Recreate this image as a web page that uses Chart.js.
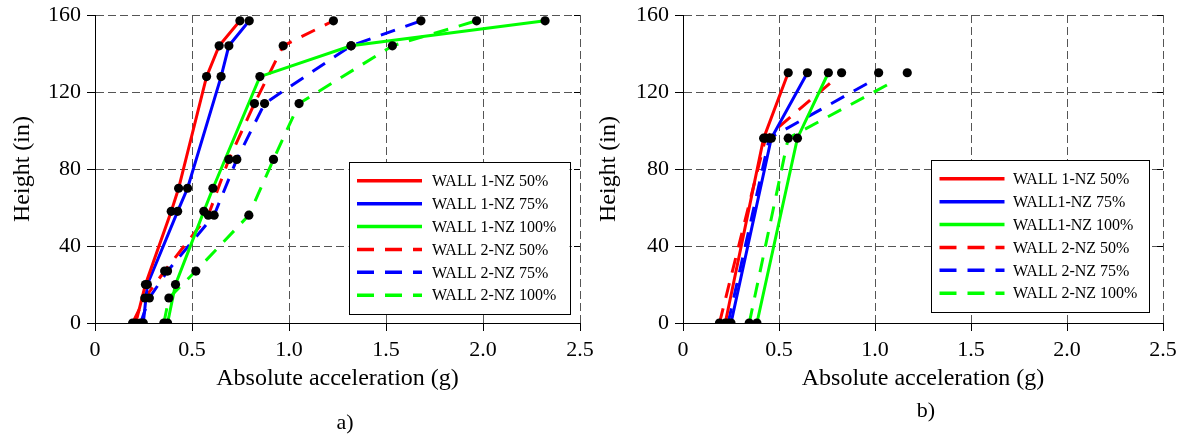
<!DOCTYPE html>
<html>
<head>
<meta charset="utf-8">
<script src="https://cdn.jsdelivr.net/npm/chart.js@4"></script>
<style>
  body { margin: 0; background: #fff; width: 1191px; height: 438px; position: relative; overflow: hidden; font-family: "Liberation Serif", serif; }
  #left { position: absolute; left: 0; top: 0; }
  #right { position: absolute; left: 592px; top: 0; }
  .cap { position: absolute; font-size: 22px; transform: translate(-50%, -50%); color: #000; }
</style>
</head>
<body>
<canvas id="left" width="595" height="438"></canvas>
<canvas id="right" width="599" height="438"></canvas>
<div class="cap" style="left:345px; top:422px">a)</div>
<div class="cap" style="left:926px; top:410px">b)</div>
<script>
// axis ticks
const xTicks = [0, 0.5, 1, 1.5, 2, 2.5];
const yTicks = [0, 40, 80, 120, 160];

// a) heights of the measuring points (in)
const heightsW1a = [0, 20, 58, 70, 128, 144, 157];
const heightsW2a = [0, 13, 27, 56, 85, 114, 144, 157];
// a) accelerations (g)
const w1n50a = [0.21, 0.26, 0.393, 0.431, 0.575, 0.64, 0.747];
const w1n75a = [0.249, 0.27, 0.426, 0.477, 0.65, 0.69, 0.795];
const w1n100a = [0.374, 0.415, 0.561, 0.608, 0.85, 1.32, 2.32];
const w2n50a = [0.194, 0.257, 0.359, 0.584, 0.69, 0.822, 0.97, 1.229];
const w2n75a = [0.235, 0.28, 0.374, 0.614, 0.731, 0.874, 1.32, 1.68];
const w2n100a = [0.355, 0.381, 0.52, 0.793, 0.92, 1.052, 1.533, 1.967];
const labelsA = ["WALL 1-NZ 50%", "WALL 1-NZ 75%", "WALL 1-NZ 100%", "WALL 2-NZ 50%", "WALL 2-NZ 75%", "WALL 2-NZ 100%"];

// b)
const heightsW1b = [0, 96, 130];
const heightsW2b = [0, 96, 125];
const w1n50b = [0.22, 0.42, 0.548];
const w1n75b = [0.25, 0.46, 0.648];
const w1n100b = [0.385, 0.596, 0.757];
const w2n50b = [0.19, 0.43, 0.771];
const w2n75b = [0.235, 0.45, 0.97];
const w2n100b = [0.345, 0.548, 1.088];
// wall 2 top markers sit a bit above the line ends
const w2TopDotHeightB = 130;
const w2TopDotsB = [0.826, 1.019, 1.168];
const labelsB = ["WALL 1-NZ 50%", "WALL1-NZ 75%", "WALL1-NZ 100%", "WALL 2-NZ 50%", "WALL 2-NZ 75%", "WALL 2-NZ 100%"];

const colors = ["#ff0000", "#0000ff", "#00ff00"];
const DASH = [15, 11];

Chart.defaults.font.family = '"Liberation Serif", serif';
Chart.defaults.color = "#000";

function pts(xs, hs) {
    return xs.map((x, i) => ({ x: x, y: hs[i] }));
}

function lineSet(label, xs, hs, color, dashed) {
    return {
        label: label,
        data: pts(xs, hs),
        borderColor: color,
        backgroundColor: color,
        borderWidth: 3,
        borderDash: dashed ? DASH : [],
        pointRadius: 0,
        showLine: true,
        fill: false,
        tension: 0
    };
}

function markerSet(points) {
    return {
        label: "",
        data: points,
        showLine: false,
        pointRadius: 4.6,
        pointBackgroundColor: "#000",
        pointBorderColor: "#000",
        pointBorderWidth: 0,
        order: -1
    };
}

// legend drawn inside the plot, bottom right
const boxLegend = {
    id: "boxLegend",
    afterDraw(chart, args, opts) {
        const { ctx, chartArea } = chart;
        const items = chart.data.datasets.filter(d => d.label);
        const rowH = 22.9, padY = 7.3;
        const h = rowH * items.length + padY * 2;
        const x0 = chartArea.right - opts.right - opts.width;
        const y0 = chartArea.bottom - opts.bottom - h;
        ctx.save();
        ctx.fillStyle = "#fff";
        ctx.fillRect(x0, y0, opts.width, h);
        ctx.strokeStyle = "#000";
        ctx.lineWidth = 1;
        ctx.strokeRect(Math.round(x0) + 0.5, Math.round(y0) + 0.5, Math.round(opts.width), Math.round(h));
        ctx.font = '16px "Liberation Serif"';
        ctx.textBaseline = "middle";
        items.forEach((d, i) => {
            const y = y0 + padY + rowH * (i + 0.5);
            ctx.strokeStyle = d.borderColor;
            ctx.lineWidth = 3.5;
            ctx.setLineDash(d.borderDash.length ? [17, 11] : []);
            ctx.beginPath();
            ctx.moveTo(x0 + 8.5, y);
            ctx.lineTo(x0 + 73.5, y);
            ctx.stroke();
            ctx.setLineDash([]);
            ctx.fillStyle = "#000";
            ctx.fillText(d.label, x0 + opts.textX, y + 1);
        });
        ctx.restore();
    }
};

// small inward ticks on the right edge
const rightTicks = {
    id: "rightTicks",
    afterDraw(chart) {
        const { ctx, chartArea } = chart;
        const y = chart.scales.y;
        ctx.save();
        ctx.strokeStyle = "#000";
        ctx.lineWidth = 1;
        y.ticks.forEach(t => {
            const py = Math.round(y.getPixelForValue(t.value)) + 0.5;
            ctx.beginPath();
            ctx.moveTo(chartArea.right - 6, py);
            ctx.lineTo(chartArea.right, py);
            ctx.stroke();
        });
        ctx.restore();
    }
};

function makeChart(id, datasets, yWidth, padRight, legendOpts) {
    return new Chart(document.getElementById(id), {
        type: "scatter",
        data: { datasets: datasets },
        options: {
            responsive: false,
            animation: false,
            layout: { padding: { left: 0, right: padRight, top: 15, bottom: 45 } },
            plugins: {
                legend: { display: false },
                tooltip: { enabled: false },
                boxLegend: legendOpts
            },
            scales: {
                x: {
                    type: "linear",
                    min: 0,
                    max: 2.5,
                    afterBuildTicks: s => { s.ticks = xTicks.map(v => ({ value: v })); },
                    afterFit: s => { s.height = 70; s.paddingLeft = 0; s.paddingRight = 0; },
                    ticks: { font: { size: 22 }, padding: 6, maxRotation: 0 },
                    grid: { color: "#555", lineWidth: 1, tickColor: "#000", tickLength: 8, tickBorderDash: [] },
                    border: { display: true, color: "#000", width: 1, dash: [8, 4] },
                    title: { display: true, text: "Absolute acceleration (g)", font: { size: 24 }, padding: 0 }
                },
                y: {
                    type: "linear",
                    min: 0,
                    max: 160,
                    afterBuildTicks: s => { s.ticks = yTicks.map(v => ({ value: v })); },
                    afterFit: s => { s.width = yWidth; s.paddingTop = 0; s.paddingBottom = 0; },
                    ticks: { font: { size: 22 }, padding: 6 },
                    grid: { color: "#555", lineWidth: 1, tickColor: "#000", tickLength: 8, tickBorderDash: [] },
                    border: { display: true, color: "#000", width: 1, dash: [8, 4] },
                    title: { display: true, text: "Height (in)", font: { size: 24 }, padding: { top: yWidth > 92 ? 8 : 2, bottom: 0 } }
                }
            }
        },
        plugins: [boxLegend, rightTicks]
    });
}

// a)
const seriesA = [
    [w1n50a, heightsW1a, colors[0], false],
    [w1n75a, heightsW1a, colors[1], false],
    [w1n100a, heightsW1a, colors[2], false],
    [w2n50a, heightsW2a, colors[0], true],
    [w2n75a, heightsW2a, colors[1], true],
    [w2n100a, heightsW2a, colors[2], true]
];
const dotsA = [];
seriesA.forEach(s => dotsA.push(...pts(s[0], s[1])));
makeChart("left",
    [markerSet(dotsA)].concat(seriesA.map((s, i) => lineSet(labelsA[i], s[0], s[1], s[2], s[3]))),
    95, 15, { right: 10.5, bottom: 9, width: 221, textX: 83.5 });

// b)
const seriesB = [
    [w1n50b, heightsW1b, colors[0], false],
    [w1n75b, heightsW1b, colors[1], false],
    [w1n100b, heightsW1b, colors[2], false],
    [w2n50b, heightsW2b, colors[0], true],
    [w2n75b, heightsW2b, colors[1], true],
    [w2n100b, heightsW2b, colors[2], true]
];
const dotsB = [];
seriesB.forEach((s, i) => {
    const p = pts(s[0], s[1]);
    if (s[3]) {
        p[p.length - 1] = { x: w2TopDotsB[i - 3], y: w2TopDotHeightB };
    }
    dotsB.push(...p);
});
makeChart("right",
    [markerSet(dotsB)].concat(seriesB.map((s, i) => lineSet(labelsB[i], s[0], s[1], s[2], s[3]))),
    91, 28, { right: 14, bottom: 11, width: 218, textX: 82 });
</script>
</body>
</html>
